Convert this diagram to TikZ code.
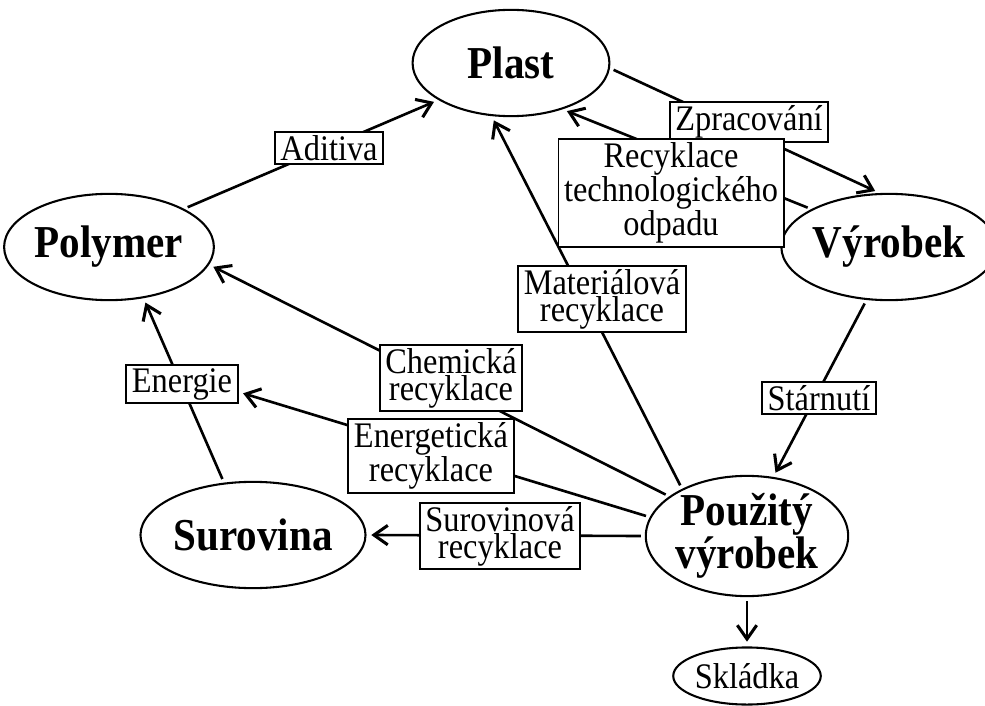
\documentclass[tikz,border=0pt]{standalone}
\usepackage{fontspec}
\setmainfont{Liberation Serif}[FakeStretch = 0.9]
\usetikzlibrary{shapes.geometric, arrows.meta, backgrounds}

\begin{document}
\begin{tikzpicture}[
        x = 0.254mm, y = -0.254mm,
        stage/.style = {ellipse, draw, line width = 1.5pt, inner sep = 0pt, minimum width = 50mm, minimum height = 27mm, align = center, font = \fontsize{33}{24}\selectfont\bfseries},
        tag/.style = {rectangle, draw, line width = 1.4pt, fill = white, inner xsep = 4pt, inner ysep = 2.5pt, align = center, font = \fontsize{26}{19.5}\selectfont},
        flow/.style = {line width = 1.9pt, -{Straight Barb[length = 10pt, width = 14pt, line width = 2.2pt]}, shorten > = 1.2mm, shorten < = 1mm}
    ]
        \useasboundingbox (0,0) rectangle (985,706);

        \node[stage] (plast) at (511,63) {Plast};
        \node[stage] (polymer) at (109,247) {Polymer};
        \node[stage, minimum width = 48.8mm] (vyrobek) at (889,247) {Výrobek};
        \node[stage] (surovina) at (253,535) {Surovina};
        \node[stage] (pouzity) at (747,536) {Použitý\\výrobek};
        \node[stage, minimum width = 35mm, minimum height = 14.5mm, font = \fontsize{26}{19}\selectfont] (skladka) at (747,676) {Skládka};

        \node[tag] (aditiva) at (329,148) {Aditiva};
        \node[tag] (zprac) at (749,122) {Zpracování};
        \node[tag] (odpad) at (671,193) {Recyklace\\technologického\\odpadu};
        \node[tag] (material) at (602,299) {Materiálová\\recyklace};
        \node[tag] (chem) at (451,378) {Chemická\\recyklace};
        \node[tag] (energie) at (182,384) {Energie};
        \node[tag] (energet) at (431,456) {Energetická\\recyklace};
        \node[tag] (starnuti) at (819,398) {Stárnutí};
        \node[tag] (surovin) at (500,536) {Surovinová\\recyklace};

        \begin{scope}[on background layer]
            \draw[flow] (polymer.27) -- (plast.207);
            \draw[flow] (plast.-3) -- (vyrobek.100);
            \draw[flow] (vyrobek.154) -- (plast.-42);
            \draw[flow] (vyrobek.247) -- (pouzity.66);
            \draw[flow] (pouzity.144) -- (plast.250);
            \draw[flow] (pouzity.153) -- (polymer.-10);
            \draw[flow] (pouzity.169) -- (energie.-8);
            \draw[flow] (pouzity.180) -- (surovina.0);
            \draw[flow] (surovina.119) -- (polymer.-56);
            \draw[flow] (pouzity.south) -- (skladka.north);
        \end{scope}
    \end{tikzpicture}
\end{document}
